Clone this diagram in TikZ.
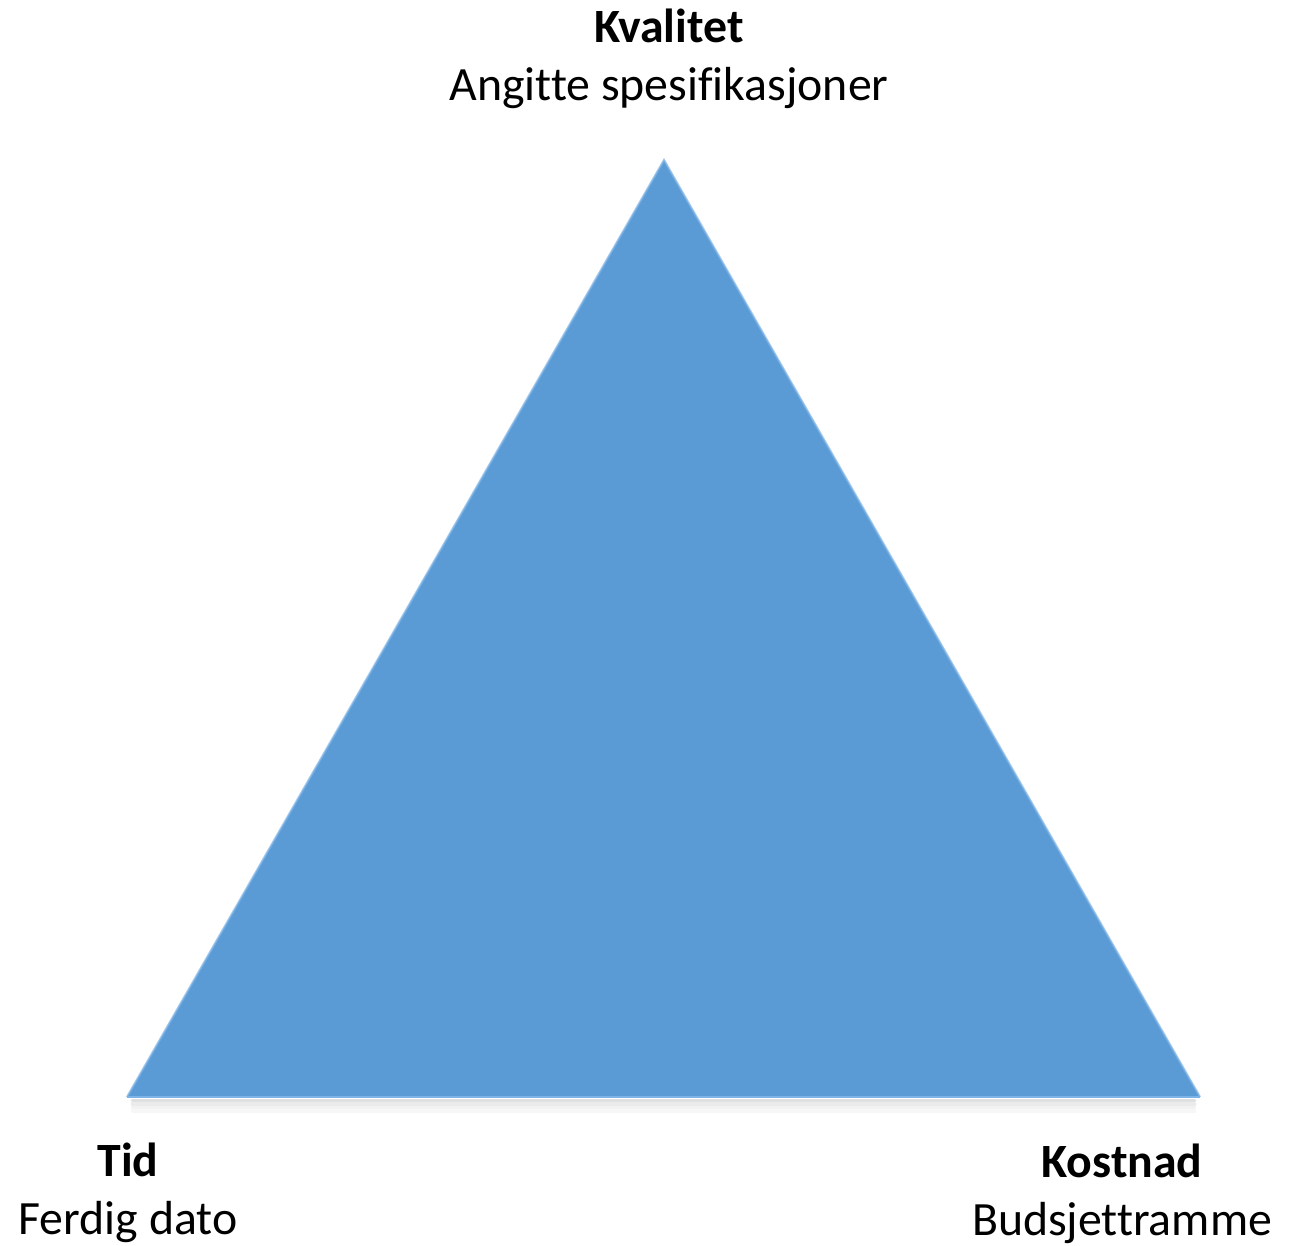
\documentclass[tikz,border=0pt]{standalone}
\usepackage{fontspec}
\setmainfont{Carlito}[Ligatures=NoCommon]
\usetikzlibrary{positioning}
\definecolor{trifill}{HTML}{5B9BD5}
\definecolor{triedge}{HTML}{7DB3E6}
\definecolor{trishade}{HTML}{4F8CC4}

\begin{document}
\begin{tikzpicture}[
  x=0.02cm, y=-0.02cm,
  font=\fontsize{27.2}{32.8}\selectfont,
  label/.style={align=center, inner sep=0pt},
  shadowline/.style={draw=black, line cap=round}
]
\useasboundingbox (0,0) rectangle (1301,1245);
% corners of the triangle
\coordinate (top) at (664,160);
\coordinate (left) at (127,1097);
\coordinate (right) at (1200,1097);

% soft shadow under the base
\foreach \d/\o in {2/0.12, 4/0.08, 6/0.05, 8/0.03} {
  \draw[shadowline, opacity=\o, line width=2pt] ([xshift=3pt, yshift=-\d pt]left) -- ([xshift=-3pt, yshift=-\d pt]right);
}
\fill[trifill] (top) -- (right) -- (left) -- cycle;
% bevel
\draw[triedge, line width=1.2pt, opacity=0.7] (left) -- (top) -- (right);
\draw[triedge, line width=1.5pt] (left) -- (right);

\node[label] (kvalitet) at (669,59) {\textbf{Kvalitet}\\Angitte spesifikasjoner};
\node[label] (tid) at (128,1193) {\textbf{Tid}\\Ferdig dato};
\node[label] (kostnad) at (1122,1194) {\textbf{Kostnad}\\Budsjettramme};
\end{tikzpicture}
\end{document}
